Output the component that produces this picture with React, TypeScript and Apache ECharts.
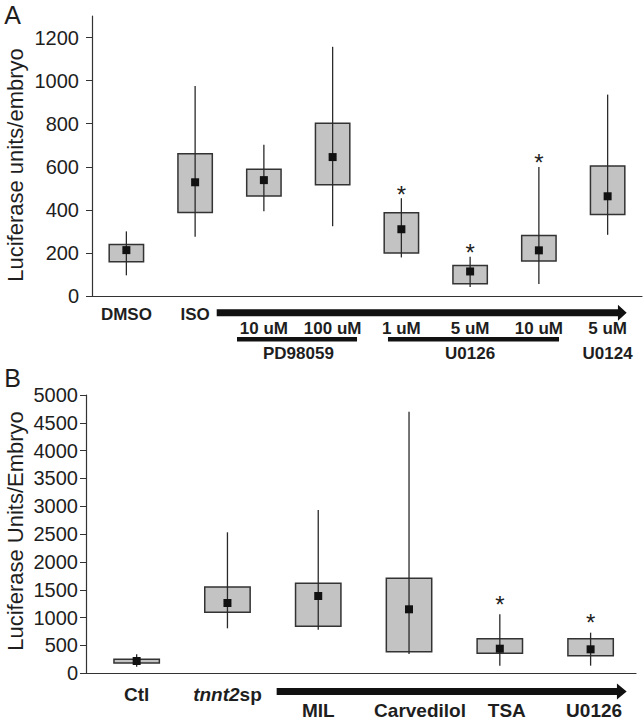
import React, { useEffect, useRef } from 'react';
import * as echarts from 'echarts';

// ---------- Panel A data ----------
const catsA = ['DMSO', 'ISO', '10 uM', '100 uM', '1 uM', '5 uM', '10 uM', '5 uM'];
const groupA = ['', '', '', '', '', 'U0126', '', 'U0124'];
const whiskLowA = [96, 275, 394, 324, 179, 42, 56, 284];
const boxLowA = [159, 388, 464, 517, 200, 57, 163, 378];
const meanA = [213, 528, 538, 645, 310, 114, 212, 463];
const boxHighA = [239, 661, 588, 802, 387, 142, 281, 603];
const whiskHighA = [300, 975, 702, 1157, 454, 182, 599, 935];
const starA = [0, 0, 0, 0, 1, 1, 1, 0];
const ticksA = [0, 200, 400, 600, 800, 1000, 1200];

// ---------- Panel B data ----------
const catsB = ['Ctl', 'tnnt2sp', 'MIL', 'Carvedilol', 'TSA', 'U0126'];
const whiskLowB = [119, 808, 784, 347, 137, 137];
const boxLowB = [185, 1096, 844, 388, 359, 316];
const meanB = [221, 1263, 1389, 1150, 442, 431];
const boxHighB = [252, 1551, 1617, 1707, 622, 622];
const whiskHighB = [341, 2533, 2934, 4701, 1060, 730];
const starB = [0, 0, 0, 0, 1, 1];
const ticksB = [0, 500, 1000, 1500, 2000, 2500, 3000, 3500, 4000, 4500, 5000];

// annotation spans in data-x units: [start, headStart, tip]
const arrowA = [1.314, 7.15, 7.277];
const barPD = [1.609, 3.355];
const barU0126 = [3.805, 6.293];
const arrowB = [1.542, 5.29, 5.397];

const FONT = 'Liberation Sans, Arial, sans-serif';
const TXT = '#1e1e1e';
const AX = '#333';

function makeData(lo: number[], q1: number[], m: number[], q3: number[], hi: number[], st: number[]) {
  return lo.map((_, i) => [i, lo[i], q1[i], m[i], q3[i], hi[i], st[i]]);
}

function renderBox(starGap: number) {
  return (params: any, api: any) => {
    const x = api.value(0);
    const lo = api.coord([x, api.value(1)]);
    const q1 = api.coord([x, api.value(2)]);
    const m = api.coord([x, api.value(3)]);
    const q3 = api.coord([x, api.value(4)]);
    const hi = api.coord([x, api.value(5)]);
    const w = api.size([1, 0])[0] * 0.5;
    const children: any[] = [
      {
        type: 'rect',
        shape: { x: lo[0] - w / 2, y: q3[1], width: w, height: q1[1] - q3[1] },
        style: { fill: '#c3c3c3', stroke: '#333', lineWidth: 1.5 },
      },
      {
        type: 'line',
        shape: { x1: lo[0], y1: hi[1], x2: lo[0], y2: lo[1] },
        style: { stroke: '#2a2a2a', lineWidth: 1.3 },
      },
      {
        type: 'rect',
        shape: { x: m[0] - 4, y: m[1] - 4, width: 8, height: 8 },
        style: { fill: '#111' },
      },
    ];
    if (api.value(6)) {
      children.push({
        type: 'text',
        x: hi[0],
        y: hi[1] - starGap + 5,
        style: { text: '*', font: `24px ${FONT}`, fill: TXT, align: 'center', verticalAlign: 'middle' },
      });
    }
    return { type: 'group', children };
  };
}

const labelA = (v: number) => {
  const i = Math.round(v);
  if (i <= 1) return `{r1|${catsA[i]}}`;
  let s = `{e| }\n{r2|${catsA[i]}}`;
  if (groupA[i]) s += `\n{r3|${groupA[i]}}`;
  return s;
};

const labelB = (v: number) => {
  const i = Math.round(v);
  if (i === 0) return `{r1|${catsB[0]}}`;
  if (i === 1) return `{it|tnnt2}{r1|sp}`;
  const styles = ['', '', 'r2', 'r2b', 'r2c', 'r2d'];
  return `{e| }\n{${styles[i]}|${catsB[i]}}`;
};

export default function App() {
  const ref = useRef<HTMLDivElement>(null);
  useEffect(() => {
    if (!ref.current) return;
    const chart = echarts.init(ref.current, null, { renderer: 'svg' });
    const option: any = {
      animation: false,
      backgroundColor: '#fff',
      grid: [
        { left: 92, right: 2, top: 16, height: 280 },
        { left: 86, right: 8, top: 395, height: 278.3 },
      ],
      xAxis: [
        {
          type: 'value', gridIndex: 0, min: -0.5, max: 7.5,
          splitLine: { show: false },
          axisLine: { onZero: false, lineStyle: { color: AX, width: 1.2 } },
          axisTick: { show: false },
          axisLabel: {
            customValues: [0, 1, 2, 3, 4, 5, 6, 7],
            formatter: labelA,
            margin: 8,
            rich: {
              r1: { fontFamily: FONT, fontWeight: 'bold', fontSize: 17, lineHeight: 20, color: TXT },
              e: { fontSize: 2, lineHeight: 14 },
              r2: { fontFamily: FONT, fontWeight: 'bold', fontSize: 17, lineHeight: 20, color: TXT },
              r3: { fontFamily: FONT, fontWeight: 'bold', fontSize: 17, lineHeight: 30, color: TXT },
            },
          },
        },
        {
          type: 'value', gridIndex: 1, min: -0.558, max: 5.5,
          splitLine: { show: false },
          axisLine: { onZero: false, lineStyle: { color: AX, width: 1.2 } },
          axisTick: { show: false },
          axisLabel: {
            customValues: [0, 1, 2, 3, 4, 5],
            formatter: labelB,
            margin: 10,
            rich: {
              r1: { fontFamily: FONT, fontWeight: 'bold', fontSize: 19, lineHeight: 22, color: TXT },
              it: { fontFamily: FONT, fontWeight: 'bold', fontStyle: 'italic', fontSize: 19, lineHeight: 22, color: TXT },
              e: { fontSize: 2, lineHeight: 16 },
              r2: { fontFamily: FONT, fontWeight: 'bold', fontSize: 19, lineHeight: 22, color: TXT },
              r2b: { fontFamily: FONT, fontWeight: 'bold', fontSize: 19, lineHeight: 22, color: TXT, padding: [0, 0, 0, 22] },
              r2c: { fontFamily: FONT, fontWeight: 'bold', fontSize: 19, lineHeight: 22, color: TXT, padding: [0, 0, 0, 14] },
              r2d: { fontFamily: FONT, fontWeight: 'bold', fontSize: 19, lineHeight: 22, color: TXT, padding: [0, 0, 0, 7] },
            },
          },
        },
      ],
      yAxis: [
        {
          type: 'value', gridIndex: 0, min: 0, max: 1300, interval: 100,
          splitLine: { show: false },
          axisLine: { show: true, onZero: false, lineStyle: { color: AX, width: 1.2 } },
          axisTick: { show: true, length: 6, lineStyle: { color: AX }, customValues: ticksA },
          axisLabel: { customValues: ticksA, margin: 13, fontFamily: FONT, fontSize: 20, color: TXT, formatter: (v: number) => String(v) },
        },
        {
          type: 'value', gridIndex: 1, min: 0, max: 5000, interval: 500,
          splitLine: { show: false },
          axisLine: { show: true, onZero: false, lineStyle: { color: AX, width: 1.2 } },
          axisTick: { show: true, length: 6, lineStyle: { color: AX }, customValues: ticksB },
          axisLabel: { customValues: ticksB, margin: 8, fontFamily: FONT, fontSize: 20, color: TXT, formatter: (v: number) => String(v) },
        },
      ],
      series: [
        {
          type: 'custom', xAxisIndex: 0, yAxisIndex: 0,
          renderItem: renderBox(9),
          encode: { x: 0, y: [1, 2, 3, 4, 5] },
          data: makeData(whiskLowA, boxLowA, meanA, boxHighA, whiskHighA, starA),
        },
        {
          type: 'custom', xAxisIndex: 1, yAxisIndex: 1,
          renderItem: renderBox(15),
          encode: { x: 0, y: [1, 2, 3, 4, 5] },
          data: makeData(whiskLowB, boxLowB, meanB, boxHighB, whiskHighB, starB),
        },
      ],
    };
    chart.setOption(option);

    const pxA = (v: number) => chart.convertToPixel({ xAxisIndex: 0 }, v) as number;
    const pxB = (v: number) => chart.convertToPixel({ xAxisIndex: 1 }, v) as number;
    const y0A = chart.convertToPixel({ yAxisIndex: 0 }, 0) as number;
    const y0B = chart.convertToPixel({ yAxisIndex: 1 }, 0) as number;

    const arrow = (px: (v: number) => number, span: number[], cy: number) => {
      const x0 = px(span[0]), xh = px(span[1]), xt = px(span[2]);
      return {
        type: 'polygon',
        shape: {
          points: [
            [x0, cy - 3.5], [xh, cy - 3.5], [xh, cy - 8], [xt, cy],
            [xh, cy + 8], [xh, cy + 3.5], [x0, cy + 3.5],
          ],
        },
        style: { fill: '#111' },
      };
    };
    const bar = (px: (v: number) => number, span: number[], cy: number) => ({
      type: 'rect',
      shape: { x: px(span[0]), y: cy - 2.3, width: px(span[1]) - px(span[0]), height: 4.6 },
      style: { fill: '#111' },
    });

    chart.setOption({
      graphic: [
        { type: 'text', x: 12.5, y: 15, style: { text: 'A', font: `25px ${FONT}`, fill: TXT, align: 'center', verticalAlign: 'middle' } },
        { type: 'text', x: 12.5, y: 378, style: { text: 'B', font: `25px ${FONT}`, fill: TXT, align: 'center', verticalAlign: 'middle' } },
        { type: 'text', x: 15, y: 165, rotation: Math.PI / 2, style: { text: 'Luciferase units/embryo', font: `22px ${FONT}`, fill: TXT, align: 'center', verticalAlign: 'middle' } },
        { type: 'text', x: 15, y: 531, rotation: Math.PI / 2, style: { text: 'Luciferase Units/Embryo', font: `22px ${FONT}`, fill: TXT, align: 'center', verticalAlign: 'middle' } },
        arrow(pxA, arrowA, y0A + 16.7),
        bar(pxA, barPD, y0A + 43.3),
        bar(pxA, barU0126, y0A + 43.3),
        { type: 'text', x: pxA((barPD[0] + barPD[1]) / 2 + 0.02), y: y0A + 57, style: { text: 'PD98059', font: `bold 17px ${FONT}`, fill: TXT, align: 'center', verticalAlign: 'middle' } },
        arrow(pxB, arrowB, y0B + 18.2),
      ],
    });

    return () => chart.dispose();
  }, []);
  return <div ref={ref} style={{ position: 'absolute', left: 0, top: 0, width: 644, height: 720 }} />;
}
